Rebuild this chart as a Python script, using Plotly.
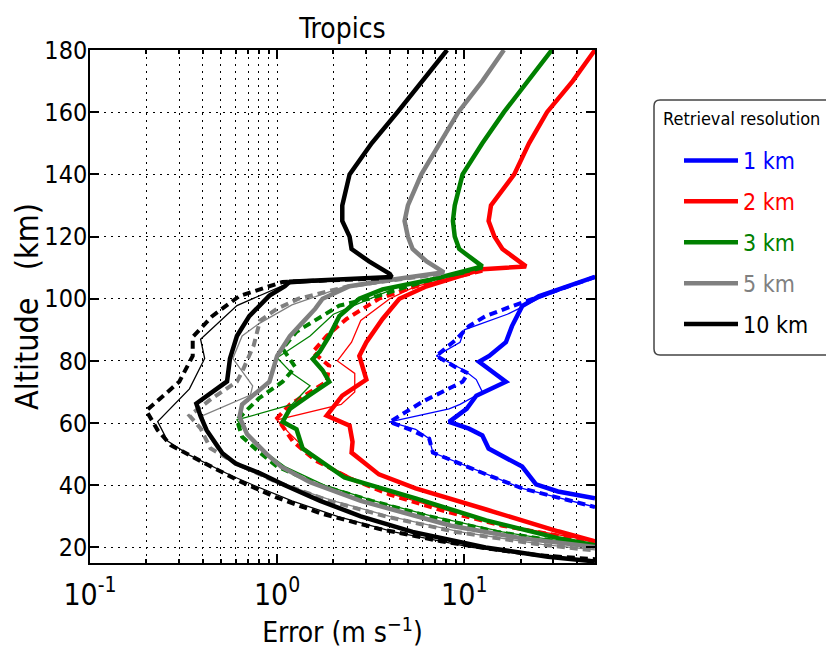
import plotly.graph_objects as go

# ---------------- data (altitude km, error m/s) ----------------
# 10 km resolution
alt_10_thick = [180,170,160,150,140,130,125,120,116,112,108,107,105.5,104,101,94.4,88,80.8,73.4,66.3,62.2,57.7,50.3,47,44,40,35,30,25,20,17,15.5]
err_10_thick = [8.1,6.0,4.4,3.2,2.44,2.23,2.23,2.44,2.5,3.1,4.0,4.1,1.17,1.1,0.91,0.71,0.61,0.56,0.54,0.37,0.39,0.42,0.51,0.6,0.8,1.1,1.7,2.8,5.3,13,28,50]
alt_10_dash = [106.5,105.4,100.9,94.4,87.7,81.6,73.3,68.8,64,57.7,52.9,47.8,41.3,36,31,26,22,19.5,17.5,16.2]
err_10_dash = [3.5,1.07,0.63,0.45,0.354,0.354,0.30,0.245,0.20,0.23,0.27,0.39,0.63,1.0,1.7,3.5,7.5,14,25,50]
alt_10_thin = [107,104.7,97.8,87,80.8,71,60.5,54.2,49.7,43.3,40,35,30,25,20,17,16]
err_10_thin = [4.1,1.12,0.61,0.39,0.41,0.34,0.23,0.26,0.34,0.56,0.75,1.2,2.1,4.2,11,27,50]

# 5 km resolution
alt_5_thick = [180,170,160,150,140,130,125,120,116,112,108.5,106,104,100,96.8,92,88,81.6,73.3,66,62,56.5,50,46,41,35,30,27,23,20.1]
err_5_thick = [16.3,12.5,9.3,7.4,5.9,5.0,4.8,5.0,5.3,6.3,7.8,4.0,2.44,1.75,1.6,1.35,1.17,1.0,0.91,0.65,0.63,0.69,0.88,1.05,1.5,2.8,5.5,8.5,20,50]
alt_5_dash = [108,104,100,96.8,92.9,85,76.5,73.3,68,62.4,58.3,51.9,46.5,41,35,30,25,21,19]
err_5_dash = [7.5,2.4,1.3,1.0,0.81,0.75,0.65,0.61,0.45,0.34,0.39,0.44,0.63,1.0,1.9,3.8,9,25,50]
alt_5_thin = [108,104,98,92,88,80.8,72,69,62.4,57,52,46,41,35,30,25,21,19.2]
err_5_thin = [7.5,2.3,1.2,0.8,0.65,0.58,0.74,0.72,0.40,0.42,0.475,0.63,1.0,2.0,4.0,9.5,26,50]

# 3 km resolution
alt_3_thick = [180,170,160,150,140,130,125,120,116,110.4,106,103,100,94.4,88,83,80.6,77,73.3,69,64.6,60.4,58,51.8,50.5,42.5,35.8,28.7,23,20.7]
err_3_thick = [29.4,22,16.3,12.5,9.8,8.9,8.7,8.9,9.4,12.5,6.5,3.66,2.75,2.15,1.9,1.69,1.55,1.75,1.9,1.49,1.17,1.07,1.27,1.37,1.47,2.29,5.5,13.1,31.7,50]
alt_3_dash = [110,106,104,100,97.8,89.4,84,78,73.3,68,61,55.6,51.3,46,40,35,30,25,21,20]
err_3_dash = [12.5,6.5,5.0,3.1,2.15,1.27,1.07,1.25,1.07,0.8,0.61,0.65,0.78,1.0,1.7,3.2,6.5,15,40,50]
alt_3_thin = [108,104,95,88,81,76,72,66,61,56,51,46,40,35,30,25,21,20.2]
err_3_thin = [10,4.5,2.0,1.5,1.0,1.2,1.5,1.2,0.61,0.7,0.85,1.1,1.8,3.3,6.8,16,42,50]

# 2 km resolution
alt_2_thick = [180,170,160,150,140,130,125,120,116,110.4,109.5,107,104,100,93.5,86,81.6,74,68.8,62.4,59.2,54,50.5,43.5,39,32.2,25.2,22]
err_2_thick = [50,38,27.7,22.2,18.5,13.9,13.5,14.5,16,21.4,12.5,9.06,6.3,4.5,3.66,3.0,2.75,3.0,2.23,1.84,2.44,2.53,2.5,3.5,5.5,13.1,31.7,50]
alt_2_dash = [109,104,100,93.5,88,82.9,78.4,73.3,66,61.6,54.2,48,42,37,32,27,23,22]
err_2_dash = [12.5,5.5,3.5,2.35,1.84,1.55,1.9,1.84,1.17,1.0,1.21,1.6,2.5,4.0,7.5,16,38,50]
alt_2_thin = [109,104,100,93,86,80,76,70,66,61,57,52,46,42,37,32,27,23,22]
err_2_thin = [12.5,5.5,4.0,2.8,2.5,2.1,2.6,2.6,2.2,1.0,1.15,1.4,1.9,2.6,4.2,8,17,40,50]

# 1 km resolution
alt_1_thick = [107,104,100.8,97.6,91.2,86,81.6,79.7,75,73.3,68.8,64.6,60.4,58.2,56,51.8,46,40.3,38,35.8]
err_1_thick = [50,35,25,20.4,18,16.7,13.6,12,15.4,16.7,11.6,10.3,8.3,10.6,12.5,13.5,20.4,24.2,31.7,50]
alt_1_dash = [107,100.8,97.6,94.4,91.2,87,81.6,78,76,73.3,70,66.9,60.4,58,55,50.5,43.5,39,33]
err_1_dash = [50,25,18,13,10.6,9.1,7.1,9,10.5,9.8,7.6,6.0,4.0,5.1,6.5,6.8,13.1,20.4,50]
alt_1_thin = [107,100,95,90,86,81.6,77,74,70,66,64.6,60.4,58,55,50.5,43.5,39,33]
err_1_thin = [50,25,17,10,9.5,7.1,10,11.6,12.5,9.5,8.3,4.0,5.5,6.5,6.8,13.1,20.4,50]

labels = ["1 km", "2 km", "3 km", "5 km", "10 km"]
colors = ["#0000ff", "#ff0000", "#008000", "#808080", "#000000"]
x_tick_vals = [0.1, 1, 10]
x_tick_text = ["10<sup>-1</sup>", "10<sup>0</sup>", "10<sup>1</sup>"]
y_tick_vals = [20, 40, 60, 80, 100, 120, 140, 160, 180]

series = [
    (alt_1_thick, err_1_thick, alt_1_dash, err_1_dash, alt_1_thin, err_1_thin),
    (alt_2_thick, err_2_thick, alt_2_dash, err_2_dash, alt_2_thin, err_2_thin),
    (alt_3_thick, err_3_thick, alt_3_dash, err_3_dash, alt_3_thin, err_3_thin),
    (alt_5_thick, err_5_thick, alt_5_dash, err_5_dash, alt_5_thin, err_5_thin),
    (alt_10_thick, err_10_thick, alt_10_dash, err_10_dash, alt_10_thin, err_10_thin),
]

FONT = "DejaVu Sans Condensed, Liberation Sans Narrow, DejaVu Sans"

fig = go.Figure()
for lab, col, (at, et, ad, ed, an, en) in zip(labels, colors, series):
    fig.add_trace(go.Scatter(x=en, y=an, mode="lines", line=dict(color=col, width=1.3),
                             showlegend=False, hoverinfo="skip"))
    fig.add_trace(go.Scatter(x=ed, y=ad, mode="lines", line=dict(color=col, width=4, dash="8px,5px"),
                             showlegend=False, hoverinfo="skip"))
    fig.add_trace(go.Scatter(x=et, y=at, mode="lines", line=dict(color=col, width=4.5),
                             name=f"<span style='color:{col}'>{lab}</span>", legendgroup=lab))

minor_x = [v * m for m in (0.1, 1, 10) for v in range(2, 10) if v * m <= 50]

# page body has an 8px margin: plot area target x 90..595, y 50..563 (page pixels)
W, H = 826, 646
L, T = 82, 42
PW, PH = 505, 513
X0, Y1 = 90, 563   # page pixel of plot-area left / bottom


def px(x):
    return (x - X0) / PW


def py(y):
    return (Y1 - y) / PH


# rounded legend frame (page pixel coordinates -> paper coordinates)
bx0, by0, bx1, by1, r = 654, 100, 850, 355, 6
frame_path = (
    f"M {px(bx0 + r)},{py(by0)} L {px(bx1 - r)},{py(by0)} "
    f"Q {px(bx1)},{py(by0)} {px(bx1)},{py(by0 + r)} L {px(bx1)},{py(by1 - r)} "
    f"Q {px(bx1)},{py(by1)} {px(bx1 - r)},{py(by1)} L {px(bx0 + r)},{py(by1)} "
    f"Q {px(bx0)},{py(by1)} {px(bx0)},{py(by1 - r)} L {px(bx0)},{py(by0 + r)} "
    f"Q {px(bx0)},{py(by0)} {px(bx0 + r)},{py(by0)} Z"
)

fig.update_layout(
    width=W, height=H,
    margin=dict(l=L, r=W - L - PW, t=T, b=H - T - PH, autoexpand=False),
    paper_bgcolor="white", plot_bgcolor="white",
    font=dict(family=FONT, size=25, color="black"),
    title=dict(text="Tropics", x=(L + PW / 2) / W, xanchor="center",
               y=1 - 20 / H, yanchor="middle", yref="container",
               font=dict(size=28, family=FONT)),
    xaxis=dict(type="log", range=[-1, 1.69897],
               tickvals=x_tick_vals, ticktext=x_tick_text,
               ticks="inside", ticklen=9, tickwidth=1.5, tickcolor="black",
               showline=True, linecolor="black", linewidth=1.5, mirror="ticks",
               showgrid=True, gridcolor="black", gridwidth=1, griddash="2px,5px",
               minor=dict(tickvals=minor_x, ticks="inside", ticklen=4, tickcolor="black",
                          showgrid=True, gridcolor="black", gridwidth=1, griddash="2px,5px"),
               tickfont=dict(size=30, family=FONT), ticklabelstandoff=4,
               title=dict(text="Error (m s<sup>−1</sup>)", font=dict(size=28, family=FONT), standoff=12),
               zeroline=False),
    yaxis=dict(range=[15, 180], tickvals=y_tick_vals,
               ticks="inside", ticklen=9, tickwidth=1.5, tickcolor="black",
               showline=True, linecolor="black", linewidth=1.5, mirror="ticks",
               showgrid=True, gridcolor="black", gridwidth=1, griddash="2px,5px",
               tickfont=dict(size=25, family=FONT), ticklabelstandoff=-4,
               title=dict(text="Altitude\u00a0\u00a0\u00a0(km)", font=dict(size=32, family=FONT), standoff=12),
               zeroline=False),
    shapes=[dict(type="path", path=frame_path, xref="paper", yref="paper",
                 line=dict(color="#444", width=1.5), fillcolor="white", layer="above")],
    annotations=[dict(text="Retrieval resolution", xref="paper", yref="paper",
                      x=px(661), y=py(118), xanchor="left", yanchor="middle",
                      showarrow=False, font=dict(size=18, family=FONT, color="black"))],
    legend=dict(x=px(654), y=py(139), xanchor="left", yanchor="top",
                bgcolor="rgba(0,0,0,0)", borderwidth=0,
                font=dict(size=23, family=FONT),
                traceorder="grouped", tracegroupgap=8,
                indentation=25, itemwidth=54),
)

fig.write_html("out.html")
